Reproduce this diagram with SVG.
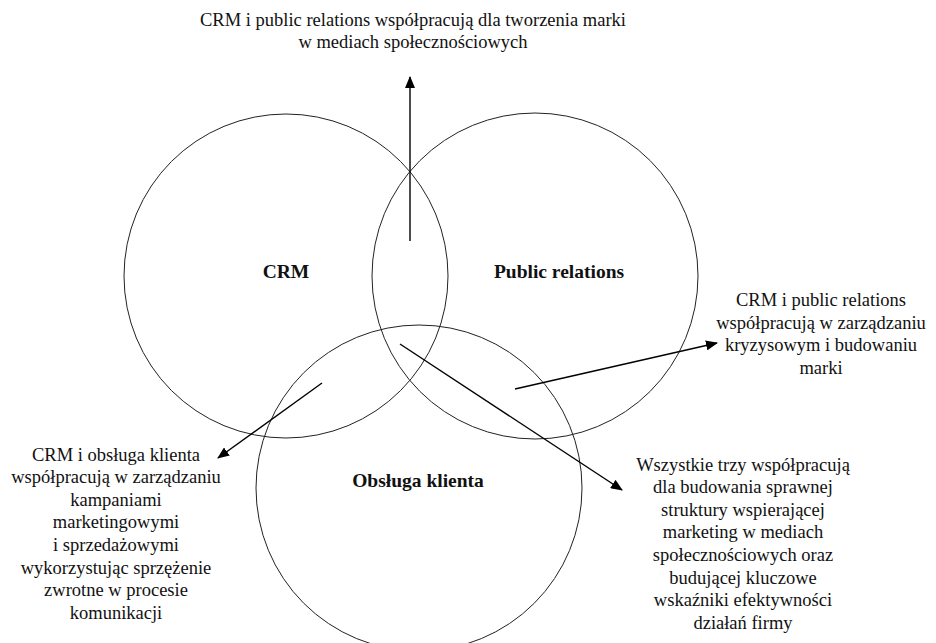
<svg xmlns="http://www.w3.org/2000/svg" width="936" height="643" viewBox="0 0 936 643">
<defs>
<style>
.c{fill:none;stroke:#222;stroke-width:1}
.a{fill:none;stroke:#000;stroke-width:1.4}
.t{font-family:"Liberation Serif","Times New Roman",serif;font-size:18.5px;fill:#111;text-anchor:middle}
.b{font-family:"Liberation Serif","Times New Roman",serif;font-size:19.5px;font-weight:bold;fill:#111;text-anchor:middle}
</style>
<marker id="ah" markerWidth="12" markerHeight="10" refX="11" refY="5" orient="auto" markerUnits="userSpaceOnUse">
<path d="M0,0 L12,5 L0,10 Z" fill="#000"/>
</marker>
</defs>
<rect width="936" height="643" fill="#fff"/>
<g id="crm"><circle class="c" cx="286" cy="276" r="162"/><text class="b" x="286" y="278">CRM</text></g>
<g id="pr"><circle class="c" cx="535" cy="276" r="163"/><text class="b" x="559" y="278">Public relations</text></g>
<g id="ok"><circle class="c" cx="419" cy="488" r="163"/><text class="b" x="418" y="487">Obsługa klienta</text></g>
<g id="connectors">
<line class="a" x1="410" y1="241" x2="410" y2="77" marker-end="url(#ah)"/>
<line class="a" x1="515" y1="389" x2="717" y2="343" marker-end="url(#ah)"/>
<line class="a" x1="322" y1="383" x2="218" y2="458" marker-end="url(#ah)"/>
<line class="a" x1="400" y1="344" x2="622" y2="490" marker-end="url(#ah)"/>
</g>
<g id="label-top">
<text class="t" x="413" y="26">CRM i public relations współpracują dla tworzenia marki</text>
<text class="t" x="413" y="48">w mediach społecznościowych</text>
</g>
<g id="label-right">
<text class="t" x="821" y="306">CRM i public relations</text>
<text class="t" x="821" y="329">współpracują w zarządzaniu</text>
<text class="t" x="821" y="351">kryzysowym i budowaniu</text>
<text class="t" x="821" y="374">marki</text>
</g>
<g id="label-left">
<text class="t" x="116" y="461">CRM i obsługa klienta</text>
<text class="t" x="116" y="483">współpracują w zarządzaniu</text>
<text class="t" x="116" y="506">kampaniami</text>
<text class="t" x="116" y="528">marketingowymi</text>
<text class="t" x="116" y="551">i sprzedażowymi</text>
<text class="t" x="116" y="574">wykorzystując sprzężenie</text>
<text class="t" x="116" y="596">zwrotne w procesie</text>
<text class="t" x="116" y="619">komunikacji</text>
</g>
<g id="label-bottom">
<text class="t" x="743" y="471">Wszystkie trzy współpracują</text>
<text class="t" x="743" y="493">dla budowania sprawnej</text>
<text class="t" x="743" y="516">struktury wspierającej</text>
<text class="t" x="743" y="538">marketing w mediach</text>
<text class="t" x="743" y="561">społecznościowych oraz</text>
<text class="t" x="743" y="584">budującej kluczowe</text>
<text class="t" x="743" y="606">wskaźniki efektywności</text>
<text class="t" x="743" y="629">działań firmy</text>
</g>
</svg>
